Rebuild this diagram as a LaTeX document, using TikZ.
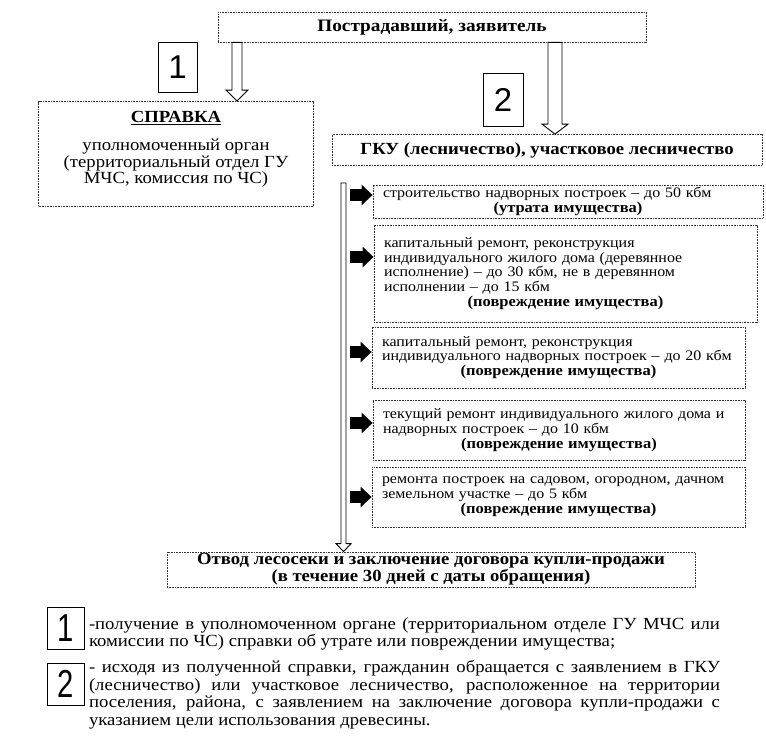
\documentclass[tikz,border=0pt]{standalone}
\usepackage{fontspec}
\setmainfont{Liberation Serif}[FakeStretch=1.1]
\newfontfamily\digitfont{Liberation Sans}
\newfontfamily\narrowdigit{Liberation Sans}[FakeStretch=0.75]
\usepackage{tikz}
\usetikzlibrary{arrows.meta,calc}
\hyphenpenalty=10000
\exhyphenpenalty=10000
\tolerance=10000

\tikzset{
  dotbox/.style={draw=black!80, dash pattern=on 0.9pt off 0.7pt, line width=0.8pt, inner sep=0pt},
  numbox/.style={draw, line width=0.9pt, inner sep=0pt, font=\digitfont\fontsize{33}{33}\selectfont},
  keybox/.style={numbox, font=\narrowdigit\fontsize{39}{39}\selectfont, minimum width=37pt, minimum height=42pt},
  headtext/.style={font=\bfseries\fontsize{17.5}{17.5}\selectfont},
  casebox/.style={dotbox, inner xsep=10pt, align=left, font=\fontsize{14.5}{14.7}\selectfont},
  legendtext/.style={text width=631pt, align=justify, inner sep=0pt, font=\fontsize{17}{17.5}\selectfont},
  hollow/.style={draw=black, line width=0.9pt, fill=white, line join=miter},
  blkarrow/.style={line width=12pt, -{Triangle[length=11pt 0 0, width=20pt 0 0]}}
}

% hollow block arrow: start, end, half shaft, half head, head length
\newcommand{\hollowarrow}[5]{%
  \draw[hollow] ($(#1)+(-#3,0)$) -- ($(#2)+(-#3,-#5)$) -- ($(#2)+(-#4,-#5)$) -- (#2)
    -- ($(#2)+(#4,-#5)$) -- ($(#2)+(#3,-#5)$) -- ($(#1)+(#3,0)$) -- cycle;
}
\newcommand{\damage}{\par{\centering\bfseries\fontsize{15}{15}\selectfont (повреждение имущества)\par}}

\begin{document}
\begin{tikzpicture}[x=1pt, y=-1pt]
\useasboundingbox (0,0) rectangle (766,740);

% Top
\node[dotbox, headtext, minimum width=428pt, minimum height=30pt] (victim) at (432,27) {Пострадавший, заявитель};
\node[numbox, minimum width=39pt, minimum height=50pt] (n1) at (177.5,67) {1};
\node[numbox, minimum width=40pt, minimum height=53pt] (n2) at (503,99.5) {2};

% Left branch
\node[dotbox, minimum width=275pt, minimum height=105pt] (spravka) at (176,154) {};
\node[font=\bfseries\fontsize{17}{17}\selectfont] (spravkatitle) at (176,118) {\underline{СПРАВКА}};
\node[align=center, font=\fontsize{17}{13}\selectfont] (spravkatext) at (176,163)
  {уполномоченный орган\\(территориальный отдел ГУ\\МЧС, комиссия по ЧС)};

% Right branch
\node[dotbox, headtext, font=\bfseries\fontsize{17}{17}\selectfont, minimum width=430pt, minimum height=31pt] (gku) at (547,150) {ГКУ (лесничество), участковое лесничество};

\node[casebox, minimum width=390pt, text width=370pt, minimum height=33pt] (c1) at (568,201.5)
  {строительство надворных построек -- до 50 кбм\par{\centering\bfseries\fontsize{15}{15}\selectfont (утрата имущества)\par}};
\node[casebox, minimum width=383pt, text width=363pt, minimum height=97pt] (c2) at (565.5,273.5)
  {капитальный ремонт, реконструкция\\индивидуального жилого дома (деревянное\\исполнение) -- до 30 кбм, не в деревянном\\исполнении -- до 15 кбм\damage};
\node[casebox, minimum width=373pt, text width=353pt, minimum height=61pt] (c3) at (558.5,357.5)
  {капитальный ремонт, реконструкция\\индивидуального надворных построек -- до 20 кбм\damage};
\node[casebox, minimum width=372pt, text width=352pt, minimum height=60pt] (c4) at (559,430)
  {текущий ремонт индивидуального жилого дома и\\надворных построек -- до 10 кбм\damage};
\node[casebox, minimum width=373pt, text width=353pt, minimum height=60pt] (c5) at (558.5,497)
  {ремонта построек на садовом, огородном, дачном\\земельном участке -- до 5 кбм\damage};

% Result
\node[dotbox, align=center, font=\bfseries\fontsize{17}{14.5}\selectfont, minimum width=528pt, minimum height=35pt] (otvod) at (431,569.5)
  {Отвод лесосеки и заключение договора купли-продажи\\(в течение 30 дней с даты обращения)};

% Arrows
\coordinate (ax1) at (237,0);
\coordinate (ax2) at (555,0);
\coordinate (ax3) at (343.5,183);
\hollowarrow{victim.south -| ax1}{spravka.north -| ax1}{5}{11}{11}
\hollowarrow{victim.south -| ax2}{gku.north -| ax2}{7}{13}{10}
\hollowarrow{ax3}{otvod.north -| ax3}{2.5}{7.5}{8}
\foreach \c/\dy in {c1/-6.5, c2/-16.5, c3/-5.5, c4/-7, c5/0}
  \draw[blkarrow] ($(\c.west -| ax3)+(6.5,\dy)$) -- ($(\c.west)+(0,\dy)$);

% Legend
\node[keybox] (k1) at (65.5,628) {1};
\node[keybox] (k2) at (65.5,684) {2};
\node[legendtext] (t1) at (404.5,634)
  {-получение в уполномоченном органе (территориальном отделе ГУ МЧС или\linebreak
   комиссии по ЧС) справки об утрате или повреждении имущества;};
\node[legendtext] (t2) at (404.5,694.5)
  {- исходя из полученной справки, гражданин обращается с заявлением в ГКУ\linebreak
   (лесничество) или участковое лесничество, расположенное на территории\linebreak
   поселения, района, с заявлением на заключение договора купли-продажи с\linebreak
   указанием цели использования древесины.};

\end{tikzpicture}
\end{document}
